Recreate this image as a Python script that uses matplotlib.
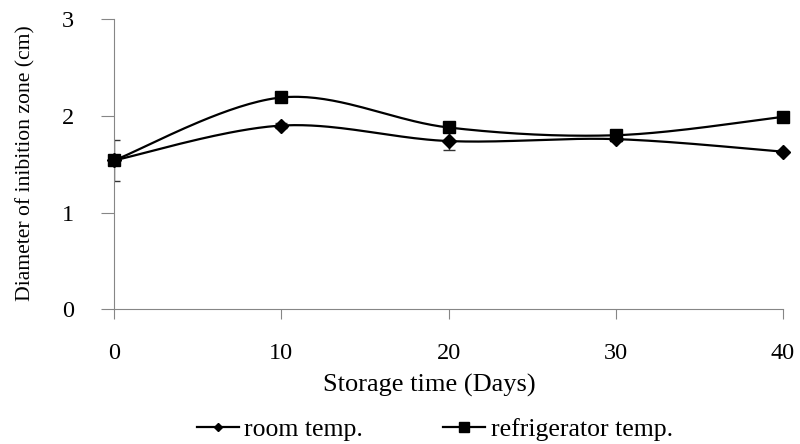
import numpy as np
import matplotlib
matplotlib.use("Agg")
import matplotlib.pyplot as plt

days = [0, 10, 20, 30, 40]
room = [1.54, 1.90, 1.74, 1.76, 1.63]
room_err = [0.21, 0.03, 0.09, 0.02, 0.02]
fridge = [1.54, 2.19, 1.88, 1.80, 1.99]
fridge_err = [0.02, 0.02, 0.02, 0.02, 0.02]
yticks = [0, 1, 2, 3]

plt.rcParams['font.family'] = ['Liberation Serif', 'DejaVu Serif']


def smooth(x, y, n=40):
    x = np.asarray(x, float); y = np.asarray(y, float)
    px = np.concatenate([[x[0]], x, [x[-1]]])
    py = np.concatenate([[y[0]], y, [y[-1]]])
    xs, ys = [], []
    t = np.linspace(0, 1, n)
    for i in range(1, len(px) - 2):
        p0 = np.array([px[i], py[i]]); p3 = np.array([px[i + 1], py[i + 1]])
        c1 = p0 + (np.array([px[i + 1], py[i + 1]]) - np.array([px[i - 1], py[i - 1]])) / 6
        c2 = p3 - (np.array([px[i + 2], py[i + 2]]) - np.array([px[i], py[i]])) / 6
        b = ((1 - t) ** 3)[:, None] * p0 + (3 * (1 - t) ** 2 * t)[:, None] * c1 \
            + (3 * (1 - t) * t ** 2)[:, None] * c2 + (t ** 3)[:, None] * p3
        xs.extend(b[:, 0]); ys.extend(b[:, 1])
    return xs, ys


fig = plt.figure(figsize=(8, 4.44), dpi=100)
ax = fig.add_axes([0.1425, 0.303, 0.8363, 0.654])
gray = '#868686'

ax.errorbar(days, room, yerr=room_err, fmt='none', ecolor='#333333', elinewidth=1, capsize=4, capthick=1)
ax.errorbar(days, fridge, yerr=fridge_err, fmt='none', ecolor='#333333', elinewidth=1, capsize=4, capthick=1)

sx, sy = smooth(days, room)
ax.plot(sx, sy, color='black', lw=1.6)
sx, sy = smooth(days, fridge)
ax.plot(sx, sy, color='black', lw=1.6)
ax.plot(days, room, ls='none', marker='D', ms=7, color='black', clip_on=False, zorder=5)
ax.plot(days, fridge, ls='none', marker='s', ms=9, color='black', clip_on=False, zorder=5)

h1, = ax.plot([], [], color='black', lw=1.6, marker='D', ms=4.5, label='room temp.')
h2, = ax.plot([], [], color='black', lw=1.6, marker='s', ms=6.5, label='refrigerator temp.')

ax.set_xlim(0, 40)
ax.set_ylim(0, 3)
ax.set_xticks(days)
ax.set_yticks(yticks)
for s in ['top', 'right']:
    ax.spines[s].set_visible(False)
for s in ['left', 'bottom']:
    ax.spines[s].set_color(gray)
ax.tick_params(axis='y', length=9.5, color=gray, pad=19, labelsize=17.5)
ax.tick_params(axis='x', length=7.5, color=gray, pad=17, labelsize=17.5)
ax.set_xlabel('Storage time (Days)', fontsize=19)
ax.xaxis.set_label_coords(0.472, -0.222)
ax.set_ylabel('Diameter of inibition zone (cm)', fontsize=15.6)
ax.yaxis.set_label_coords(-0.117, 0.505)

fig.legend(handles=[h1, h2], loc='center', bbox_to_anchor=(0.5435, 0.032), ncol=2, frameon=False,
           fontsize=18.5, handlelength=1.65, handletextpad=0.2, columnspacing=3.1)

fig.savefig('out.png', dpi=100)
